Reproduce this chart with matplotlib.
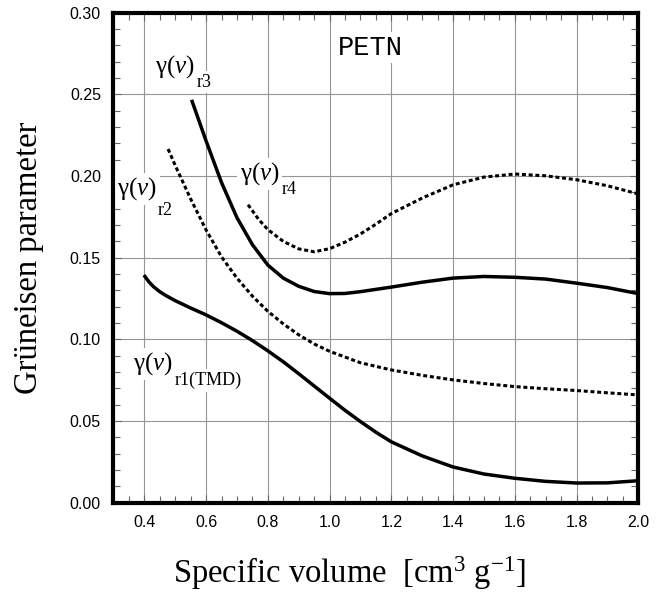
import matplotlib
matplotlib.use('Agg')
import matplotlib.pyplot as plt
from matplotlib.ticker import MultipleLocator

# Dados (volume específico x parâmetro de Grüneisen)
x_r1 = [0.402, 0.415, 0.43, 0.45, 0.47, 0.50, 0.55, 0.60, 0.65, 0.70, 0.75, 0.80, 0.85,
        0.90, 0.95, 1.00, 1.05, 1.10, 1.15, 1.20, 1.30, 1.40, 1.50, 1.60, 1.70, 1.80,
        1.90, 2.00]
y_r1 = [0.1385, 0.1352, 0.1322, 0.1292, 0.1268, 0.1237, 0.1192, 0.1150, 0.1102, 0.1050,
        0.0993, 0.0930, 0.0863, 0.0790, 0.0715, 0.0640, 0.0566, 0.0497, 0.0432, 0.0373,
        0.0287, 0.0219, 0.0176, 0.0150, 0.0131, 0.0121, 0.0122, 0.0135]

x_r2 = [0.477, 0.50, 0.55, 0.60, 0.65, 0.70, 0.75, 0.80, 0.85, 0.90, 0.95, 1.00, 1.10,
        1.20, 1.30, 1.40, 1.50, 1.60, 1.70, 1.80, 1.90, 2.00]
y_r2 = [0.2165, 0.2065, 0.1860, 0.1670, 0.1505, 0.1375, 0.1265, 0.1172, 0.1095, 0.1028,
        0.0972, 0.0927, 0.0857, 0.0813, 0.0780, 0.0752, 0.0730, 0.0711, 0.0698, 0.0687,
        0.0673, 0.0660]

x_r3 = [0.555, 0.60, 0.65, 0.70, 0.75, 0.80, 0.85, 0.90, 0.95, 1.00, 1.05, 1.10, 1.20,
        1.30, 1.40, 1.50, 1.60, 1.70, 1.80, 1.90, 2.00]
y_r3 = [0.2456, 0.2215, 0.1960, 0.1745, 0.1580, 0.1455, 0.1375, 0.1325, 0.1293, 0.1280,
        0.1281, 0.1292, 0.1320, 0.1350, 0.1375, 0.1385, 0.1380, 0.1369, 0.1344, 0.1317,
        0.1280]

x_r4 = [0.736, 0.77, 0.80, 0.85, 0.90, 0.95, 1.00, 1.05, 1.10, 1.15, 1.20, 1.30, 1.40,
        1.50, 1.60, 1.70, 1.80, 1.90, 2.00]
y_r4 = [0.1824, 0.1735, 0.1672, 0.1600, 0.1554, 0.1536, 0.1555, 0.1595, 0.1645, 0.1705,
        0.1770, 0.1865, 0.1946, 0.1993, 0.2012, 0.2001, 0.1977, 0.1940, 0.1890]

plt.rcParams['mathtext.fontset'] = 'custom'
plt.rcParams['mathtext.rm'] = 'Liberation Serif'
plt.rcParams['mathtext.it'] = 'Liberation Serif:italic'
plt.rcParams['font.family'] = 'Liberation Sans'

fig = plt.figure(figsize=(6.72, 5.96), dpi=100)
ax = fig.add_axes([0.1688, 0.1564, 0.7811, 0.8225])

pontilhado = (0, (1.3, 0.9))
ax.plot(x_r1, y_r1, color='black', lw=2.5, zorder=3)
ax.plot(x_r2, y_r2, color='black', lw=2.2, linestyle=pontilhado, dash_capstyle='butt', zorder=3)
ax.plot(x_r3, y_r3, color='black', lw=2.5, zorder=3)
ax.plot(x_r4, y_r4, color='black', lw=2.2, linestyle=pontilhado, dash_capstyle='butt', zorder=3)

ax.set_xlim(0.3, 2.0)
ax.set_ylim(0.0, 0.30)
ax.xaxis.set_minor_locator(MultipleLocator(0.05))
ax.yaxis.set_minor_locator(MultipleLocator(0.01))
ax.set_xticks([0.4, 0.6, 0.8, 1.0, 1.2, 1.4, 1.6, 1.8, 2.0])
ax.set_xticklabels(['0.4', '0.6', '0.8', '1.0', '1.2', '1.4', '1.6', '1.8', '2.0'])
ax.set_yticks([0.0, 0.05, 0.10, 0.15, 0.20, 0.25, 0.30])
ax.set_yticklabels(['0.00', '0.05', '0.10', '0.15', '0.20', '0.25', '0.30'])

ax.grid(True, which='major', color='#959595', lw=0.8, zorder=0)
ax.set_axisbelow(True)
ax.tick_params(which='both', direction='in', top=True, right=True, color='#666666',
               labelsize=11.5, pad=9)
ax.tick_params(which='major', length=6, width=0.8)
ax.tick_params(which='minor', length=5, width=0.8)
for s in ax.spines.values():
    s.set_linewidth(3)

# rótulos das curvas: texto principal + índice separado (mais baixo, como no original)
caixa = dict(facecolor='white', edgecolor='none', pad=2)
rotulos = [(0.434, 0.2632, 0.570, 0.2546, 'r3'),
           (0.709, 0.1977, 0.845, 0.1891, 'r4'),
           (0.3116, 0.1885, 0.444, 0.1762, 'r2'),
           (0.3634, 0.0813, 0.4994, 0.0721, 'r1(TMD)')]
for xg, yg, xs, ys, sub in rotulos:
    ax.text(xg, yg, r'$\mathrm{\gamma}(v)$', fontsize=18, ha='left', va='baseline',
            bbox=caixa, zorder=2)
    ax.text(xs, ys, sub, fontsize=13, family='Liberation Serif', ha='left',
            va='baseline', bbox=caixa, zorder=2)
ax.text(1.132, 0.2742, 'PETN', fontsize=19.5, family='Liberation Mono', ha='center',
        va='baseline', bbox=caixa, zorder=2)

ax.set_xlabel(r'Specific volume  [cm$^{3}$ g$^{\mathrm{-}1}$]', fontsize=23.5,
              family='Liberation Serif')
ax.set_ylabel('Grüneisen parameter', fontsize=23.5, family='Liberation Serif')
ax.xaxis.set_label_coords(0.45, -0.105)
ax.yaxis.set_label_coords(-0.133, 0.5)

fig.savefig('out.png', dpi=100)
